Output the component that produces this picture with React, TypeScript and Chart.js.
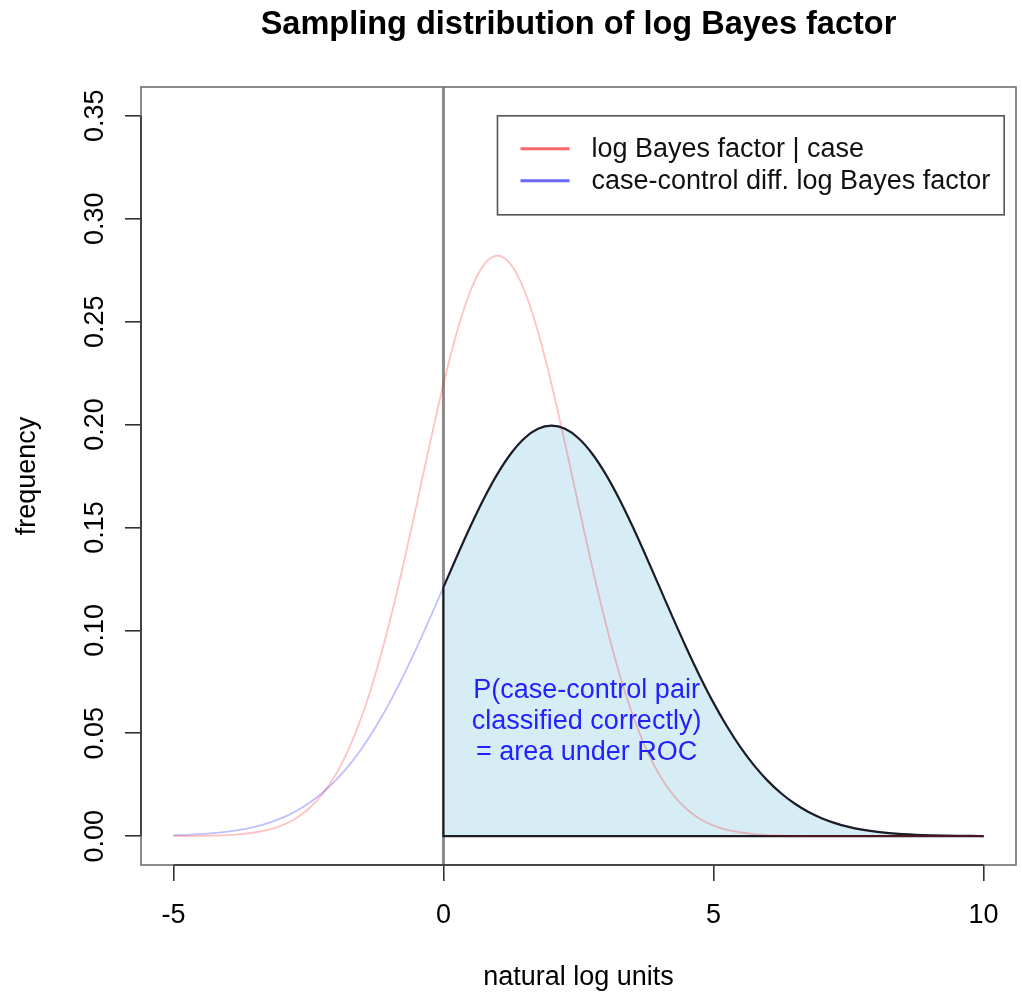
import React, { useEffect, useRef } from "react";
import { Chart, registerables } from "chart.js";

Chart.register(...registerables);

const FONT = "'Liberation Sans', Arial, Helvetica, sans-serif";

// ---- data ----
const xValues = [
  -5, -4.75, -4.5, -4.25, -4, -3.75, -3.5, -3.25, -3, -2.75, -2.5, -2.25, -2, -1.75, -1.5, -1.25,
  -1, -0.75, -0.5, -0.25, 0, 0.25, 0.5, 0.75, 1, 1.25, 1.5, 1.75, 2, 2.25, 2.5, 2.75, 3, 3.25,
  3.5, 3.75, 4, 4.25, 4.5, 4.75, 5, 5.25, 5.5, 5.75, 6, 6.25, 6.5, 6.75, 7, 7.25, 7.5, 7.75, 8,
  8.25, 8.5, 8.75, 9, 9.25, 9.5, 9.75, 10,
];

// log Bayes factor | case
const redValues = [
  0.000035, 0.000073, 0.000147, 0.000287, 0.000544, 0.001002, 0.001786, 0.003085, 0.005167,
  0.008387, 0.013194, 0.020116, 0.029732, 0.042588, 0.05913, 0.079564, 0.103777, 0.131187,
  0.160731, 0.190873, 0.219696, 0.245085, 0.265, 0.277717, 0.282095, 0.277717, 0.265, 0.245085,
  0.219696, 0.190873, 0.160731, 0.131187, 0.103777, 0.079564, 0.05913, 0.042588, 0.029732,
  0.020116, 0.013194, 0.008387, 0.005167, 0.003085, 0.001786, 0.001002, 0.000544, 0.000287,
  0.000147, 0.000073, 0.000035, 0.000016, 0.000007, 0.000003, 0.000001, 0, 0, 0, 0, 0, 0, 0, 0,
];

// case-control diff. log Bayes factor
const blueValues = [
  0.000436, 0.000671, 0.001015, 0.001511, 0.002216, 0.003199, 0.004547, 0.006362, 0.008764,
  0.011886, 0.01587, 0.020861, 0.026995, 0.034393, 0.043139, 0.053273, 0.064759, 0.077507,
  0.091325, 0.105938, 0.120985, 0.136028, 0.150569, 0.164082, 0.176033, 0.185927, 0.193334,
  0.197919, 0.199471, 0.197919, 0.193334, 0.185927, 0.176033, 0.164082, 0.150569, 0.136028,
  0.120985, 0.105938, 0.091325, 0.077507, 0.064759, 0.053273, 0.043139, 0.034393, 0.026995,
  0.020861, 0.01587, 0.011886, 0.008764, 0.006362, 0.004547, 0.003199, 0.002216, 0.001511,
  0.001015, 0.000671, 0.000436, 0.000279, 0.000176, 0.000109, 0.000067,
];

const xTicks = [-5, 0, 5, 10];
const yTicks = [0, 0.05, 0.1, 0.15, 0.2, 0.25, 0.3, 0.35];
const xLimits = [-5.6, 10.6];
const yLimits = [-0.014, 0.364];
const shadeFrom = 0;
const seriesLabels = ["log Bayes factor | case", "case-control diff. log Bayes factor"];
const legendColors = ["rgba(255,0,0,0.6)", "rgba(0,0,255,0.6)"];
const annotationLines = ["P(case-control pair", "classified correctly)", "= area under ROC"];
const legendAnchor = [1, 0.35];
const annotationAnchor = [2.65, 0.0558];
const titleText = "Sampling distribution of log Bayes factor";
const xTitle = "natural log units";
const yTitle = "frequency";

const toPoints = (ys: number[]) => xValues.map((x, i) => ({ x, y: ys[i] }));

const decorPlugin = {
  id: "decor",
  afterDatasetsDraw(chart: any) {
    const { ctx, chartArea } = chart;
    const xs = chart.scales.x;
    const ys = chart.scales.y;
    ctx.save();
    // plot box
    ctx.strokeStyle = "#6e6e6e";
    ctx.lineWidth = 1.6;
    ctx.strokeRect(chartArea.left, chartArea.top, chartArea.right - chartArea.left, chartArea.bottom - chartArea.top);
    // axis lines (between first and last tick)
    ctx.strokeStyle = "#333";
    ctx.lineWidth = 1.6;
    ctx.beginPath();
    ctx.moveTo(xs.getPixelForValue(xTicks[0]), chartArea.bottom);
    ctx.lineTo(xs.getPixelForValue(xTicks[xTicks.length - 1]), chartArea.bottom);
    ctx.moveTo(chartArea.left, ys.getPixelForValue(yTicks[0]));
    ctx.lineTo(chartArea.left, ys.getPixelForValue(yTicks[yTicks.length - 1]));
    ctx.stroke();

    // legend
    ctx.font = `27px ${FONT}`;
    const left = xs.getPixelForValue(legendAnchor[0]);
    const top = ys.getPixelForValue(legendAnchor[1]);
    const maxW = Math.max(...seriesLabels.map((l) => ctx.measureText(l).width));
    const textX = left + 94;
    const right = textX + maxW + 14;
    const rowH = 32;
    const firstRow = top + 33;
    const bottom = firstRow + rowH * (seriesLabels.length - 1) + 34;
    ctx.fillStyle = "#fff";
    ctx.fillRect(left, top, right - left, bottom - top);
    ctx.strokeStyle = "#555";
    ctx.lineWidth = 1.6;
    ctx.strokeRect(left, top, right - left, bottom - top);
    seriesLabels.forEach((lab, i) => {
      const y = firstRow + i * rowH;
      ctx.strokeStyle = legendColors[i];
      ctx.lineWidth = 3;
      ctx.beginPath();
      ctx.moveTo(left + 23, y);
      ctx.lineTo(left + 72, y);
      ctx.stroke();
      ctx.fillStyle = "#111";
      ctx.textAlign = "left";
      ctx.textBaseline = "middle";
      ctx.fillText(lab, textX, y + 1);
    });

    // annotation
    const ax = xs.getPixelForValue(annotationAnchor[0]);
    const ay = ys.getPixelForValue(annotationAnchor[1]);
    ctx.fillStyle = "#2222ff";
    ctx.textAlign = "center";
    ctx.textBaseline = "middle";
    annotationLines.forEach((line, i) => {
      ctx.fillText(line, ax, ay + (i - 1) * 31.2);
    });
    ctx.restore();
  },
};

export default function App() {
  const ref = useRef<HTMLCanvasElement>(null);
  useEffect(() => {
    const shadeStart = xValues.indexOf(shadeFrom);
    const shadePts = toPoints(blueValues).slice(shadeStart);
    const lastX = xValues[xValues.length - 1];
    const common = { showLine: true, pointRadius: 0, pointHoverRadius: 0 };
    const chart = new Chart(ref.current as HTMLCanvasElement, {
      type: "scatter",
      data: {
        datasets: [
          {
            ...common,
            label: "v0",
            data: [
              { x: shadeFrom, y: yLimits[0] },
              { x: shadeFrom, y: yLimits[1] },
            ],
            borderColor: "#8c8c8c",
            borderWidth: 3,
            tension: 0,
            order: 5,
          },
          {
            ...common,
            label: seriesLabels[1],
            data: toPoints(blueValues),
            borderColor: "rgba(0,0,255,0.25)",
            borderWidth: 1.8,
            cubicInterpolationMode: "monotone",
            order: 4,
          },
          {
            ...common,
            label: "shade",
            data: shadePts,
            fill: "origin",
            backgroundColor: "rgb(215,237,246)",
            borderColor: "#1c1c28",
            borderWidth: 2.2,
            cubicInterpolationMode: "monotone",
            order: 3,
          },
          {
            ...common,
            label: "shade edge",
            data: [
              { x: shadeFrom, y: blueValues[shadeStart] },
              { x: shadeFrom, y: 0 },
              { x: lastX, y: 0 },
            ],
            borderColor: "#1c1c28",
            borderWidth: 2.2,
            tension: 0,
            order: 2,
          },
          {
            ...common,
            label: seriesLabels[0],
            data: toPoints(redValues),
            borderColor: "rgba(255,0,0,0.24)",
            borderWidth: 1.8,
            cubicInterpolationMode: "monotone",
            order: 1,
          },
        ],
      } as any,
      options: {
        responsive: false,
        animation: false,
        devicePixelRatio: 1,
        events: [],
        layout: { padding: { top: 0, right: 6, bottom: 0, left: 0 } },
        plugins: {
          legend: { display: false },
          tooltip: { enabled: false },
          title: {
            display: true,
            text: titleText,
            fullSize: false,
            color: "#000",
            font: { family: FONT, size: 32.5, weight: "bold", lineHeight: 1.2 },
            padding: { top: 5.3, bottom: 42.7 },
          },
        },
        scales: {
          x: {
            type: "linear",
            min: xLimits[0],
            max: xLimits[1],
            afterBuildTicks: (s: any) => {
              s.ticks = xTicks.map((v) => ({ value: v }));
            },
            afterFit: (s: any) => {
              s.height = 133;
            },
            ticks: {
              autoSkip: false,
              minRotation: 0,
              maxRotation: 0,
              padding: 18.4,
              color: "#000",
              font: { family: FONT, size: 27, lineHeight: 1.2 },
              callback: (v: any) => String(v),
            },
            grid: { display: true, drawOnChartArea: false, drawTicks: true, tickLength: 16, color: "#333", lineWidth: 1.6 },
            border: { display: false },
            title: {
              display: true,
              text: xTitle,
              color: "#000",
              font: { family: FONT, size: 27, lineHeight: 1.2 },
              padding: { top: 0, bottom: 4.2 },
            },
          },
          y: {
            type: "linear",
            min: yLimits[0],
            max: yLimits[1],
            afterBuildTicks: (s: any) => {
              s.ticks = yTicks.map((v) => ({ value: v }));
            },
            afterFit: (s: any) => {
              s.width = 141;
            },
            ticks: {
              autoSkip: false,
              minRotation: 90,
              maxRotation: 90,
              crossAlign: "center",
              padding: 3,
              color: "#000",
              font: { family: FONT, size: 27, lineHeight: 1.2 },
              callback: (v: any) => Number(v).toFixed(2),
            },
            grid: { display: true, drawOnChartArea: false, drawTicks: true, tickLength: 16, color: "#333", lineWidth: 1.6 },
            border: { display: false },
            title: {
              display: true,
              text: yTitle,
              color: "#000",
              font: { family: FONT, size: 27, lineHeight: 1.2 },
              padding: { top: 11.4, bottom: 0 },
            },
          },
        },
      } as any,
      plugins: [decorPlugin],
    });
    return () => chart.destroy();
  }, []);

  return (
    <div style={{ position: "fixed", left: 0, top: 0, width: 1022, height: 998, background: "#fff" }}>
      <canvas ref={ref} width={1022} height={998} style={{ display: "block", width: 1022, height: 998 }} />
    </div>
  );
}
